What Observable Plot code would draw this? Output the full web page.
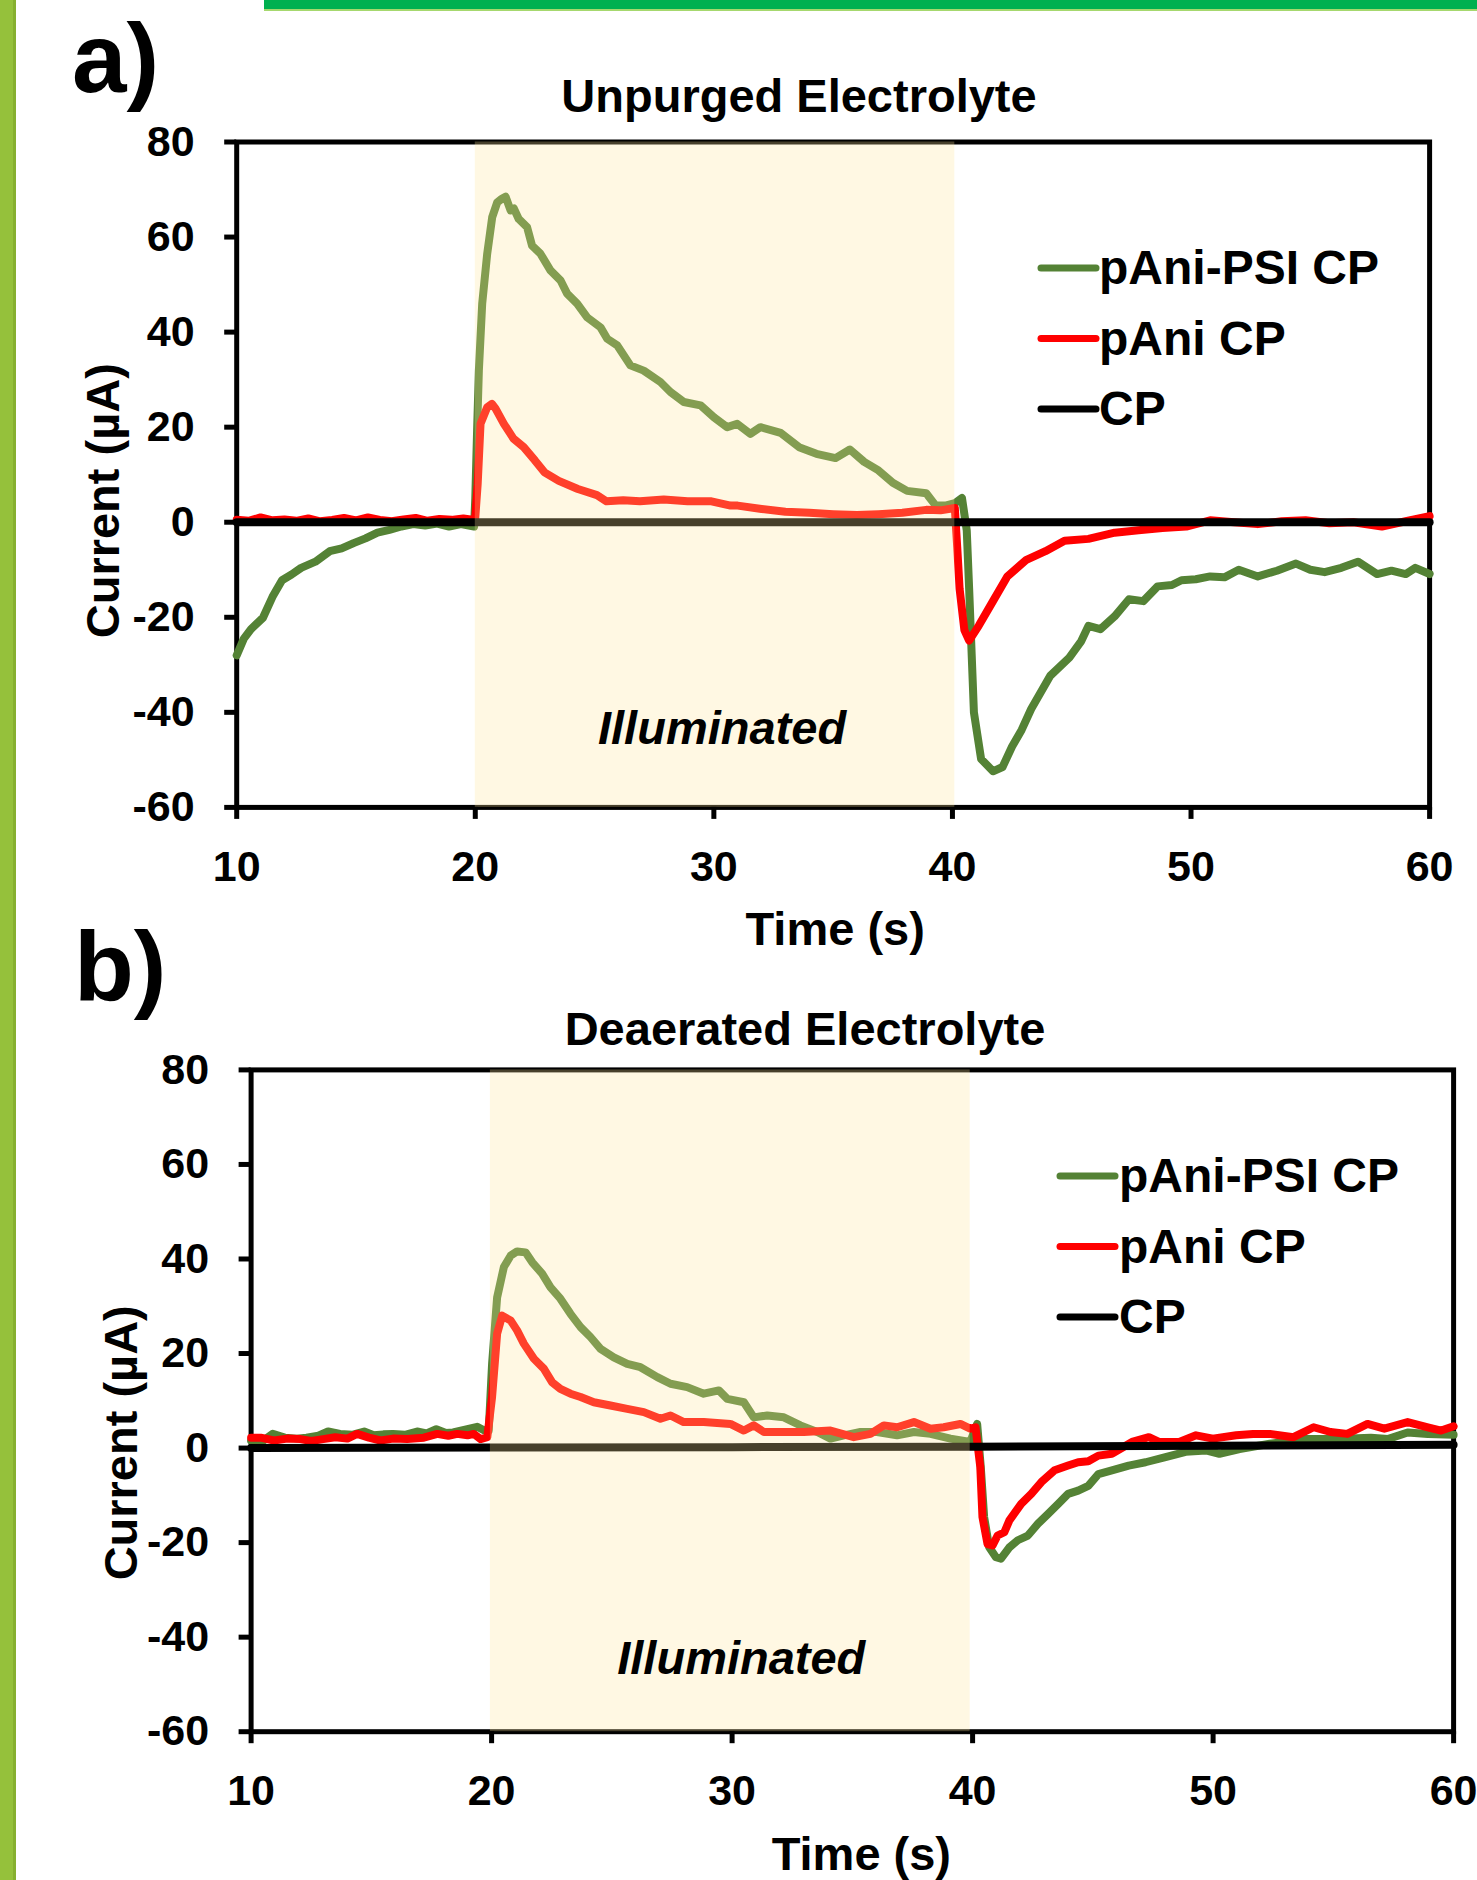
<!DOCTYPE html>
<html>
<head>
<meta charset="utf-8">
<script src="https://cdn.jsdelivr.net/npm/d3@7"></script>
<script src="https://cdn.jsdelivr.net/npm/@observablehq/plot@0.6"></script>
<style>
html, body { margin: 0; padding: 0; background: #fff; }
#page { position: relative; width: 1477px; height: 1880px; overflow: hidden; background: #fff; }
.panel { position: absolute; left: 0; }
#leftbar { position: absolute; left: 0; top: 0; width: 13px; height: 1880px; background: #95c13b; border-right: 3px solid #86b02f; }
#topbar { position: absolute; left: 264px; top: 0; right: 0; height: 9px; background: #00b050; border-bottom: 2px solid #a6d86e; }
</style>
</head>
<body>
<div id="page">
  <div id="leftbar"></div>
  <div id="topbar"></div>
  <div id="panelA" class="panel" style="top:0px"></div>
  <div id="panelB" class="panel" style="top:960px"></div>
</div>
<script>
// ---------- data ----------
const xTicks = [10, 20, 30, 40, 50, 60];
const yTicks = [-60, -40, -20, 0, 20, 40, 60, 80];
const seriesNames = ["pAni-PSI CP", "pAni CP", "CP"];
const seriesColors = ["#548235", "#ff0000", "#000000"];
const panelTitles = ["Unpurged Electrolyte", "Deaerated Electrolyte"];
const panelLetters = ["a)", "b)"];
const xLabel = "Time (s)";
const yLabel = "Current (µA)";
const illumLabel = "Illuminated";
const illumA = [[20, 40.1]];
const illumB = [[19.95, 39.9]];

// Panel a: unpurged electrolyte  [time s, current µA]
const aPSI = [[10,-28],[10.3,-24.5],[10.6,-22.5],[11.1,-20.1],[11.5,-15.7],[11.9,-12.2],[12.3,-11],[12.7,-9.6],[13.3,-8.3],[13.9,-6.1],[14.4,-5.5],[14.9,-4.4],[15.4,-3.4],[15.9,-2.2],[16.4,-1.6],[16.9,-0.9],[17.4,-0.4],[17.9,-0.7],[18.4,-0.3],[18.9,-0.9],[19.4,-0.4],[19.95,-0.9],
  [20.0,5],[20.08,20],[20.15,31.9],[20.29,46],[20.5,56.5],[20.71,64.2],[20.92,67.3],[21.1,68],[21.27,68.5],[21.48,65.6],[21.62,66],[21.82,63.8],[22.17,62.1],[22.38,58.2],[22.73,56.5],[23.15,53],[23.57,50.9],[23.85,48.1],[24.27,46],[24.69,43.1],[25.25,41],[25.53,38.6],[25.95,37.2],[26.5,33],[27.06,31.9],[27.76,29.5],[28.18,27.4],[28.74,25.3],[29.44,24.6],[30.0,22.1],[30.56,20],[30.98,20.7],[31.53,18.6],[31.95,20],
  [32.8,18.8],[33.6,15.7],[34.3,14.4],[35.1,13.5],[35.7,15.3],[36.3,12.7],[36.9,10.9],[37.5,8.3],[38.1,6.6],[38.9,6.1],[39.3,3.5],[39.7,3.5],[40.1,4],[40.4,5.1],[40.6,-1.7],[40.7,-14],[40.9,-40],[41.2,-49.8],[41.7,-52.4],[42.1,-51.5],[42.5,-47.2],[42.9,-43.7],[43.3,-39.3],[44.1,-32.3],[44.9,-28.5],[45.4,-25],[45.7,-21.8],[46.2,-22.5],[46.8,-19.8],[47.4,-16.2],[48.0,-16.6],[48.6,-13.5],[49.2,-13.2],[49.6,-12.2],[50.2,-12],[50.8,-11.4],[51.4,-11.6],[52.0,-10],[52.8,-11.4],[53.6,-10.2],[54.4,-8.7],[55.0,-10],[55.6,-10.5],[56.3,-9.6],[57.0,-8.3],[57.8,-10.9],[58.4,-10.2],[59.0,-10.9],[59.4,-9.6],[60,-10.9]];
const aPAni = [[10,0.5],[10.5,0.3],[11,1.0],[11.5,0.4],[12,0.6],[12.5,0.3],[13,0.8],[13.5,0.2],[14,0.5],[14.5,0.9],[15,0.4],[15.5,1.0],[16,0.5],[16.5,0.2],[17,0.6],[17.5,0.9],[18,0.3],[18.5,0.7],[19,0.5],[19.5,0.8],[19.95,0.5],
  [20.0,1],[20.1,8],[20.22,20.7],[20.5,24.2],[20.7,24.9],[20.85,23.9],[21.2,20.7],[21.6,17.6],[22.03,15.8],[22.5,13],[22.9,10.5],[23.5,8.7],[24.3,7],[25.1,5.7],[25.5,4.4],[26.2,4.6],[26.9,4.4],[27.9,4.8],[28.9,4.4],[29.9,4.4],[30.7,3.5],[31,3.5],[32,2.8],[33,2.2],[34,2.0],[35,1.7],[36,1.5],[36.9,1.7],[37.9,2.0],[38.9,2.6],[39.5,2.5],[40.1,3],
  [40.2,-5.2],[40.3,-14],[40.5,-22.7],[40.7,-24.9],[41.1,-21.8],[41.7,-16.6],[42.3,-11.4],[43.1,-7.9],[43.9,-6.1],[44.7,-3.9],[45.7,-3.5],[46.8,-2.2],[47.8,-1.7],[48.8,-1.2],[49.8,-0.9],[50.8,0.4],[51.8,0],[52.8,-0.4],[53.8,0.2],[54.8,0.4],[55.8,-0.2],[56.8,0],[58,-0.9],[59,0.2],[60,1.3]];
const aCP = [[10,0],[20,0],[30,0],[40,0],[50,0],[60,0]];

// Panel b: deaerated electrolyte  [time s, current µA]
const bPSI = [[10,1.6],[10.4,1.2],[10.9,3],[11.4,2.2],[11.9,2.0],[12.3,2.2],[12.8,2.6],[13.2,3.5],[13.7,3],[14.2,2.8],[14.7,3.5],[15.1,2.7],[15.5,2.9],[15.9,3],[16.4,2.8],[16.9,3.5],[17.3,3.1],[17.7,4],[18.1,3.2],[18.4,3.3],[18.9,3.9],[19.4,4.5],[19.7,3.7],[19.88,3.7],
  [20.02,17.8],[20.23,31.9],[20.51,38.3],[20.79,40.7],[21.06,41.6],[21.41,41.4],[21.69,39.3],[22.1,36.9],[22.45,34],[22.86,31.6],[23.28,28.4],[23.7,25.6],[24.11,23.5],[24.53,21],[25.08,19.2],[25.64,17.8],[26.19,17.1],[26.89,15],[27.44,13.6],[28.13,12.9],[28.82,11.5],[29.45,12.2],[29.8,10.4],[30.49,9.7],[30.9,6.5],[31.46,6.9],[32.15,6.5],[32.84,4.8],[33.54,3.4],[34.09,2],[34.65,2.7],[35.34,3.4],[36.03,3.4],[36.86,2.7],[37.56,3.4],[38.25,3],[39.08,2],[39.9,1.3],[40.19,5.1],
  [40.34,-4],[40.48,-14.6],[40.69,-21],[40.97,-23.1],[41.18,-23.4],[41.53,-21],[41.88,-19.5],[42.3,-18.5],[42.72,-16],[43.14,-13.9],[43.56,-11.8],[43.97,-9.7],[44.39,-9],[44.81,-8],[45.23,-5.5],[45.79,-4.7],[46.49,-3.7],[47.19,-3],[48.02,-1.9],[48.86,-0.8],[49.7,-0.5],[50.26,-1.2],[51.1,-0.2],[52.36,0.9],[53.76,1.9],[55.16,1.9],[56.56,2.2],[57.26,1.9],[58.09,3.3],[58.93,3],[60,2.8]];
const bPAni = [[10,2.2],[10.4,2.2],[10.95,1.6],[11.5,2.0],[12.05,1.9],[12.5,1.5],[13,1.9],[13.5,2.3],[14,2.0],[14.41,3],[14.9,2.2],[15.38,1.6],[15.9,2.0],[16.49,1.9],[17.18,2.2],[17.74,3],[18.2,2.6],[18.57,3],[19.0,2.7],[19.26,3],[19.54,1.9],[19.82,2.3],
  [20.02,10.8],[20.23,24.2],[20.44,28],[20.79,27],[21.06,24.9],[21.34,22.1],[21.76,18.9],[22.17,16.8],[22.52,13.9],[22.86,12.5],[23.28,11.5],[23.7,10.8],[24.25,9.7],[24.94,9],[25.64,8.3],[26.33,7.6],[27.02,6.2],[27.44,6.9],[27.99,5.5],[28.82,5.5],[29.93,5.1],[30.49,3.7],[30.9,4.8],[31.32,3.4],[32.29,3.4],[32.98,3.4],[34.09,3.7],[35.06,2.3],[35.75,3],[36.31,4.8],[36.86,4.4],[37.56,5.5],[38.25,4.1],[38.8,4.4],[39.49,5.1],[39.9,4.1],[40.12,4.4],
  [40.32,-4],[40.41,-14.6],[40.62,-20.3],[40.83,-20.6],[41.04,-18.5],[41.32,-17.8],[41.53,-15.3],[42.02,-11.8],[42.44,-9.7],[42.86,-7.2],[43.41,-4.7],[43.97,-3.7],[44.39,-3],[44.81,-2.8],[45.23,-1.6],[45.79,-1.2],[46.63,1.3],[47.33,2.3],[47.75,1.3],[48.59,1.3],[49.29,2.7],[49.99,2],[50.96,2.7],[51.66,3],[52.36,3],[53.34,2.3],[54.18,4.4],[54.88,3.4],[55.58,3],[56.42,5.1],[57.12,4.1],[58.09,5.5],[58.93,4.4],[59.48,3.7],[60,4.6]];
const bCP = [[10,0],[20,0.1],[30,0.2],[40,0.3],[50,0.5],[60,0.7]];

// ---------- drawing ----------
const FONT = '"Liberation Sans", Arial, Helvetica, sans-serif';

function makePanel(cfg) {
  const X = d => d[0], Y = d => d[1];
  const lineOpts = c => ({x: X, y: Y, stroke: c, strokeWidth: 8, strokeLinejoin: "round", strokeLinecap: "round"});
  return Plot.plot({
    width: 1477, height: cfg.height,
    marginTop: cfg.mt, marginBottom: cfg.mb, marginLeft: cfg.ml, marginRight: cfg.mr,
    style: {fontFamily: FONT, fontWeight: "bold", background: "transparent", overflow: "visible", color: "#000"},
    x: {domain: [10, 60]},
    y: {domain: [-60, 80]},
    marks: [
      Plot.frame({stroke: "#000", strokeWidth: 5}),
      Plot.line(cfg.series[0], lineOpts(seriesColors[0])),
      Plot.line(cfg.series[1], lineOpts(seriesColors[1])),
      Plot.line(cfg.series[2], lineOpts(seriesColors[2])),
      Plot.rect(cfg.illum, {x1: d => d[0], x2: d => d[1], fill: "#ffe699", fillOpacity: 0.28}),
      Plot.axisX({ticks: xTicks, tickSize: 12, tickPadding: 31, fontSize: 43, strokeWidth: 5, tickFormat: d => String(d), label: null}),
      Plot.axisY({ticks: yTicks, tickSize: 12, tickPadding: 30, fontSize: 43, strokeWidth: 5, tickFormat: d => String(d), label: null}),
      Plot.text([xLabel], {text: d => d, frameAnchor: "bottom", textAnchor: "middle", dx: cfg.xlDx, dy: cfg.xlDy, lineAnchor: "bottom", fontSize: 47}),
      Plot.text([yLabel], {text: d => d, frameAnchor: "left", textAnchor: "middle", rotate: -90, dx: cfg.ylDx, dy: cfg.ylDy, lineAnchor: "bottom", fontSize: 47}),
      Plot.text(cfg.illum, {x: d => (d[0] + d[1]) / 2, text: () => illumLabel, frameAnchor: "bottom", textAnchor: "middle", dx: cfg.ilDx, dy: cfg.ilDy, lineAnchor: "bottom", fontSize: 47, fontStyle: "italic"})
    ]
  });
}

document.getElementById("panelA").appendChild(makePanel({
  series: [aPSI, aPAni, aCP], illum: illumA,
  height: 960, mt: 141.5, mb: 153.1, ml: 236.2, mr: 47.9,
  xlDx: 2, xlDy: 138, ylDx: -118, ylDy: 26, ilDx: 7, ilDy: -63
}));
document.getElementById("panelB").appendChild(makePanel({
  series: [bPSI, bPAni, bCP], illum: illumB,
  height: 920, mt: 109.4, mb: 148.8, ml: 250.6, mr: 23.9,
  xlDx: 9, xlDy: 138.5, ylDx: -114, ylDy: 42, ilDx: 11, ilDy: -58
}));

// titles, panel letters, legends
const ov = d3.select("#page").append("svg")
  .attr("width", 1477).attr("height", 1880)
  .style("position", "absolute").style("left", "0px").style("top", "0px")
  .attr("font-family", FONT).attr("font-weight", "bold");

const layout = [
  {letterX: 72, letterY: 92, titleX: 799, titleY: 112, legLineX: [1041, 1096], legTextX: 1099, legLineY: 268},
  {letterX: 74, letterY: 1000, titleX: 805, titleY: 1045, legLineX: [1060, 1115], legTextX: 1119, legLineY: 1176}
];
layout.forEach((L, p) => {
  ov.append("text").attr("x", L.letterX).attr("y", L.letterY).attr("font-size", 98).text(panelLetters[p]);
  ov.append("text").attr("x", L.titleX).attr("y", L.titleY).attr("font-size", 47).attr("text-anchor", "middle").text(panelTitles[p]);
  seriesNames.forEach((name, i) => {
    const y = L.legLineY + i * 70.5;
    ov.append("line").attr("x1", L.legLineX[0]).attr("x2", L.legLineX[1]).attr("y1", y).attr("y2", y)
      .attr("stroke", seriesColors[i]).attr("stroke-width", 7).attr("stroke-linecap", "round");
    ov.append("text").attr("x", L.legTextX).attr("y", y + 16).attr("font-size", 48).text(name);
  });
});
</script>
</body>
</html>
